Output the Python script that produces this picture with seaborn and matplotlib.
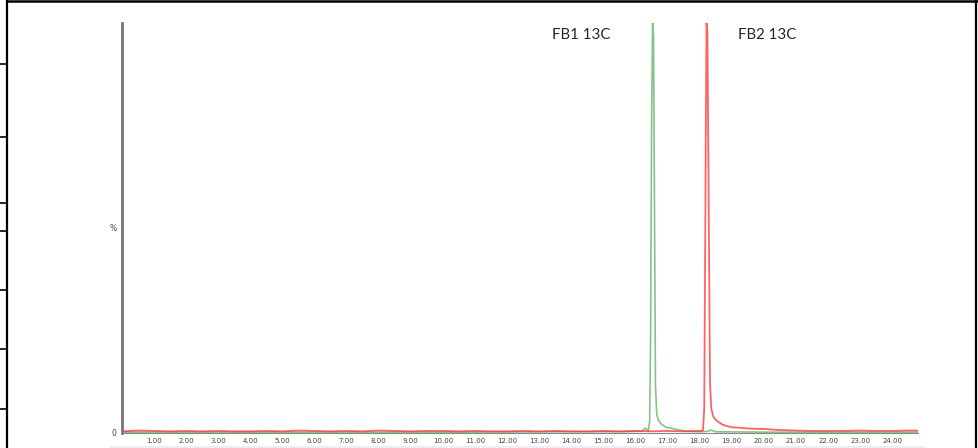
import numpy as np
import pandas as pd
import matplotlib.pyplot as plt
import seaborn as sns
from matplotlib.lines import Line2D
from matplotlib.patches import Rectangle

# Thời gian (phút) và cường độ (%)
green_time = [0.0, 2.0, 5.0, 8.0, 11.0, 14.0, 15.5, 16.2, 16.3, 16.4, 16.44, 16.47,
              16.50, 16.53, 16.56, 16.59, 16.62, 16.66, 16.72, 16.80, 16.95, 17.10,
              17.30, 17.6, 18.0, 18.25, 18.35, 18.5, 20.0, 24.8]
green_int = [0.2, 0.2, 0.2, 0.2, 0.2, 0.3, 0.3, 0.4, 1.2, 0.5, 3.0, 25.0,
             75.0, 100.0, 97.0, 55.0, 12.0, 4.5, 3.0, 2.2, 1.4, 1.2,
             0.8, 0.4, 0.3, 0.4, 0.7, 0.3, 0.2, 0.2]

red_time = [0.0, 0.5, 1.0, 1.5, 2.0, 2.5, 3.0, 3.5, 4.0, 4.5, 5.0, 5.5, 6.0, 6.5,
            7.0, 7.5, 8.0, 8.5, 9.0, 9.5, 10.0, 10.5, 11.0, 11.5, 12.0, 12.5,
            13.0, 13.5, 14.0, 14.5, 15.0, 15.5, 16.0, 16.5, 17.0, 17.5, 18.0,
            18.10, 18.14, 18.18, 18.21, 18.24, 18.28, 18.32, 18.36, 18.42, 18.5,
            18.6, 18.7, 18.8, 19.0, 19.2, 19.5, 19.8, 20.0, 20.3, 20.6, 21.0,
            21.5, 22.0, 22.5, 23.0, 23.5, 24.0, 24.5, 24.8]
red_int = [0.4, 0.6, 0.5, 0.4, 0.5, 0.4, 0.5, 0.4, 0.4, 0.5, 0.4, 0.6, 0.5, 0.4,
           0.5, 0.4, 0.6, 0.5, 0.4, 0.5, 0.5, 0.4, 0.5, 0.4, 0.4, 0.5,
           0.4, 0.5, 0.4, 0.4, 0.5, 0.4, 0.5, 0.4, 0.5, 0.4, 0.5,
           0.6, 6.0, 60.0, 100.0, 98.0, 55.0, 12.0, 6.0, 4.0, 3.2,
           2.6, 2.1, 1.8, 1.4, 1.3, 1.1, 1.0, 1.0, 0.8, 0.7, 0.6,
           0.5, 0.5, 0.5, 0.6, 0.5, 0.5, 0.6, 0.6]

x_ticks = list(range(1, 25))
y_ticks = list(range(0, 101, 10))
y_tick_labels = ['0', '', '', '', '', '%', '', '', '', '', '']
peak_labels = ['FB1 13C', 'FB2 13C']

sns.set_style('white')
plt.rcParams['font.family'] = ['DejaVu Sans']

fig = plt.figure(figsize=(9.79, 4.48), dpi=100)
ax = fig.add_axes([0.1246, 0.0335, 0.8131, 0.9152])

df_g = pd.DataFrame({'t': green_time, 'i': green_int})
df_r = pd.DataFrame({'t': red_time, 'i': red_int})
sns.lineplot(data=df_g, x='t', y='i', color='#3a9a3a', alpha=0.6, lw=1.2, ax=ax)
sns.lineplot(data=df_r, x='t', y='i', color='#ff3030', alpha=0.75, lw=1.3, ax=ax)

ax.set_xlim(0, 24.8)
ax.set_ylim(0, 100)
ax.set_xlabel('')
ax.set_ylabel('')

for s in ['top', 'right']:
    ax.spines[s].set_visible(False)
ax.spines['left'].set_color('#777777')
ax.spines['left'].set_linewidth(2)
ax.spines['bottom'].set_color('#888888')
ax.spines['bottom'].set_linewidth(0.8)

ax.set_xticks(x_ticks)
ax.set_xticklabels(['%.2f' % v for v in x_ticks], fontsize=5, color='#444444')
ax.set_xticks(np.arange(0, 24.85, 0.2), minor=True)
ax.tick_params(axis='x', which='major', length=3, width=0.6, color='#555555', pad=0.5, direction='out')
ax.tick_params(axis='x', which='minor', length=2, width=0.5, color='#666666', direction='out')
ax.set_yticks(y_ticks)
ax.set_yticklabels(y_tick_labels, fontsize=5.5, color='#444444')
ax.tick_params(axis='y', which='major', length=2, width=0.6, color='#777777', pad=2, direction='out')

ax.text(14.3, 97, peak_labels[0], fontsize=10.8, family=['Lato', 'DejaVu Sans'], ha='center', va='center')
ax.text(20.1, 97, peak_labels[1], fontsize=10.8, family=['Lato', 'DejaVu Sans'], ha='center', va='center')

# khung đen và dải xám bên dưới
W, H = 979.0, 448.0
fig.add_artist(Line2D([7 / W, 7 / W], [0, 1], color='black', lw=1.6))
fig.add_artist(Line2D([7 / W, 1], [1 - 1 / H, 1 - 1 / H], color='black', lw=1.8))
fig.add_artist(Line2D([976 / W, 976 / W], [0, 1], color='black', lw=1.6))
for yy in [64, 137, 203, 231, 290, 349, 409]:
    fig.add_artist(Line2D([0, 7 / W], [1 - yy / H, 1 - yy / H], color='black', lw=1.2))
fig.add_artist(Rectangle((110 / W, 0), (925 - 110) / W, 2 / H, transform=fig.transFigure,
                         color='#eeeeee', lw=0))

fig.savefig('out.png', dpi=100)
